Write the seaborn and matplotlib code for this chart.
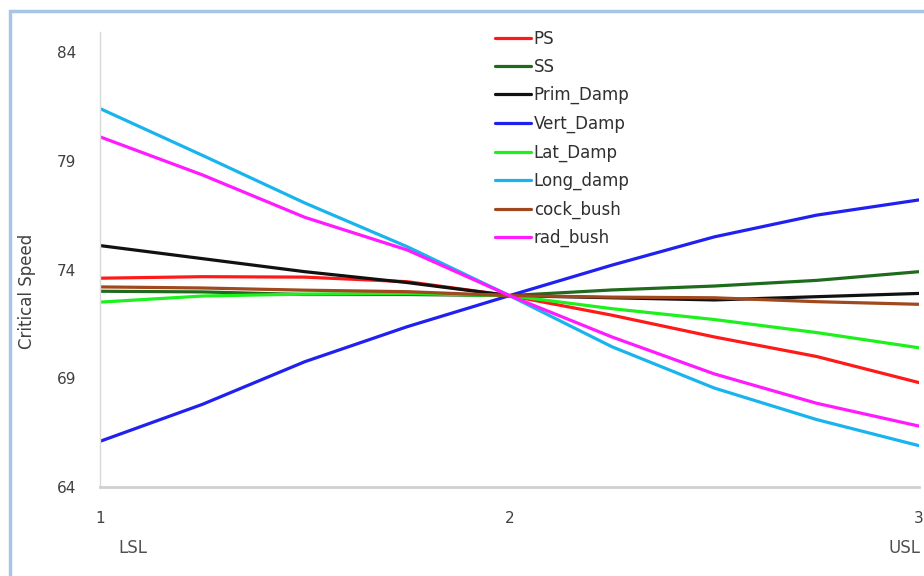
import matplotlib.patches as mpatches
import numpy as np
import pandas as pd
import seaborn as sns
from matplotlib import pyplot as plt

# positions along the spec range (1 = LSL, 2 = nominal, 3 = USL)
x_pos = [1, 1.25, 1.5, 1.75, 2, 2.25, 2.5, 2.75, 3]

ps = [73.6, 73.67, 73.65, 73.44, 72.8, 71.9, 70.9, 70.0, 68.8]
ss = [73.0, 72.97, 72.85, 72.85, 72.8, 73.06, 73.24, 73.5, 73.9]
prim_damp = [75.1, 74.5, 73.9, 73.4, 72.8, 72.7, 72.6, 72.75, 72.9]
vert_damp = [66.1, 67.8, 69.76, 71.37, 72.8, 74.2, 75.5, 76.5, 77.2]
lat_damp = [72.5, 72.78, 72.87, 72.9, 72.8, 72.2, 71.7, 71.1, 70.4]
long_damp = [81.4, 79.25, 77.06, 75.05, 72.8, 70.45, 68.55, 67.1, 65.9]
cock_bush = [73.2, 73.15, 73.05, 72.98, 72.8, 72.73, 72.7, 72.52, 72.4]
rad_bush = [80.1, 78.35, 76.4, 74.9, 72.8, 70.9, 69.2, 67.85, 66.8]

series_names = ['PS', 'SS', 'Prim_Damp', 'Vert_Damp', 'Lat_Damp', 'Long_damp', 'cock_bush', 'rad_bush']
series_vals = [ps, ss, prim_damp, vert_damp, lat_damp, long_damp, cock_bush, rad_bush]
colors = ['#ff1a1a', '#1e6b1e', '#111111', '#2020f0', '#1ef01e', '#19b4ee', '#a0481e', '#ff1aff']

y_ticks = [64, 69, 74, 79, 84]
x_ticks = [1, 2, 3]

rows = []
for name, vals in zip(series_names, series_vals):
    for xv, yv in zip(x_pos, vals):
        rows.append({'pos': xv, 'speed': yv, 'param': name})
df = pd.DataFrame(rows)

sns.set_style('white')
plt.rcParams['font.family'] = ['DejaVu Sans']

fig = plt.figure(figsize=(9.24, 5.76), dpi=100)
ax = fig.add_axes([100 / 924, 1 - 487 / 576, 819 / 924, (487 - 32) / 576])

sns.lineplot(data=df, x='pos', y='speed', hue='param', hue_order=series_names,
             palette=dict(zip(series_names, colors)), linewidth=2.3, sort=False,
             estimator=None, ax=ax)

ax.set_xlim(1, 3)
ax.set_ylim(64, 84.92)
ax.set_xticks(x_ticks)
ax.set_yticks(y_ticks)
ax.set_xlabel('')
ax.set_ylabel('Critical Speed', fontsize=12, color='#404040')
ax.yaxis.set_label_coords(-0.078, 0.43)

for side in ['top', 'right']:
    ax.spines[side].set_visible(False)
ax.spines['left'].set_color('#d9d9d9')
ax.spines['left'].set_linewidth(1.0)
ax.spines['bottom'].set_color('#d0d0d0')
ax.spines['bottom'].set_linewidth(2.0)
ax.tick_params(axis='both', direction='out', length=5, color='#c8c8c8',
               labelsize=11, labelcolor='#404040')
ax.tick_params(axis='x', pad=12)
ax.tick_params(axis='y', pad=12)

# spec limit captions under the x axis
ax.text(1.045, -0.135, 'LSL', transform=ax.get_xaxis_transform(), fontsize=12,
        color='#505050', ha='left', va='center', clip_on=False)
ax.text(3.003, -0.135, 'USL', transform=ax.get_xaxis_transform(), fontsize=12,
        color='#505050', ha='right', va='center', clip_on=False)

leg = ax.legend(loc='upper left', bbox_to_anchor=(388 / 819, 1.02), frameon=False,
                fontsize=12, handlelength=2.2, handletextpad=0.15, labelspacing=0.62,
                borderaxespad=0.0)
for t in leg.get_texts():
    t.set_color('#303030')

# light blue frame around the chart area
frame = mpatches.Rectangle((10 / 924, -0.05), 1.0, 1 - 11 / 576 + 0.05,
                           transform=fig.transFigure, fill=False,
                           edgecolor='#a8c4e6', linewidth=2.5, zorder=0)
fig.patches.append(frame)

fig.savefig('out.png', dpi=100)
